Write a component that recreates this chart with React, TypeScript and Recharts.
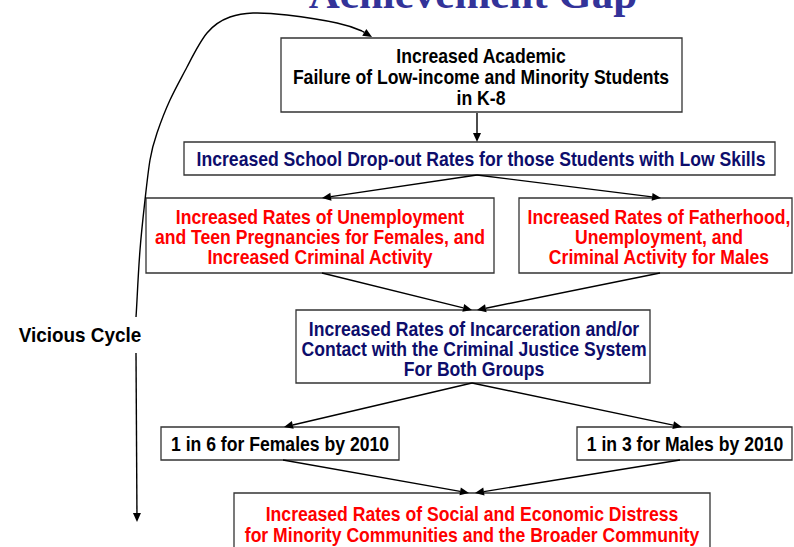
import {
  ComposedChart,
  Line,
  ReferenceArea,
  ReferenceLine,
  Scatter,
  XAxis,
  YAxis,
} from "recharts";

// diagram space: 0..794 across, 0..547 down (same units as the slide)
const boxes = [
  { id: "academic", x1: 281, x2: 682, y1: 38, y2: 112 },
  { id: "dropout", x1: 184, x2: 775, y1: 142, y2: 175 },
  { id: "females", x1: 146, x2: 494, y1: 198, y2: 273 },
  { id: "males", x1: 519, x2: 792, y1: 198, y2: 273 },
  { id: "incarceration", x1: 296, x2: 650, y1: 310, y2: 383 },
  { id: "oneInSix", x1: 161, x2: 399, y1: 427, y2: 460 },
  { id: "oneInThree", x1: 577, x2: 792, y1: 427, y2: 460 },
  { id: "distress", x1: 234, x2: 710, y1: 493, y2: 556 },
];

const labelLines = [
  { x: 481, y: 56, text: "Increased Academic", tone: "ink" },
  { x: 481, y: 77, text: "Failure of Low-income and Minority Students", tone: "ink" },
  { x: 481, y: 98, text: "in K-8", tone: "ink" },
  { x: 481, y: 159, text: "Increased School Drop-out Rates for those Students with Low Skills", tone: "navy" },
  { x: 320, y: 217, text: "Increased Rates of Unemployment", tone: "red" },
  { x: 320, y: 237, text: "and Teen Pregnancies for Females, and", tone: "red" },
  { x: 320, y: 257, text: "Increased Criminal Activity", tone: "red" },
  { x: 659, y: 217, text: "Increased Rates of Fatherhood,", tone: "red" },
  { x: 659, y: 237, text: "Unemployment, and", tone: "red" },
  { x: 659, y: 257, text: "Criminal Activity for Males", tone: "red" },
  { x: 474, y: 329, text: "Increased Rates of Incarceration and/or", tone: "navy" },
  { x: 474, y: 349, text: "Contact with the Criminal Justice System", tone: "navy" },
  { x: 474, y: 369, text: "For Both Groups", tone: "navy" },
  { x: 280, y: 444, text: "1 in 6 for Females by 2010", tone: "ink" },
  { x: 685, y: 444, text: "1 in 3 for Males by 2010", tone: "ink" },
  { x: 472, y: 514, text: "Increased Rates of Social and Economic Distress", tone: "red" },
  { x: 472, y: 535, text: "for Minority Communities and the Broader Community", tone: "red" },
];

const titleText = [{ x: 473, y: 8, text: "Achievement Gap" }];
const sideLabel = [{ x: 80, y: 335, text: "Vicious Cycle" }];

const links = [
  { from: [477, 113], to: [477, 142] },
  { from: [477, 175], to: [322, 198] },
  { from: [477, 175], to: [661, 198] },
  { from: [322, 273], to: [472, 310] },
  { from: [660, 273], to: [477, 310] },
  { from: [472, 383], to: [284, 427] },
  { from: [472, 383], to: [682, 427] },
  { from: [283, 460], to: [469, 493] },
  { from: [680, 460], to: [475, 493] },
  { from: [136, 353], to: [137, 522] },
  { from: [362, 31], to: [372, 37] },
];

const cyclePath = [
  { x: 136, y: 317 },
  { x: 137, y: 300 },
  { x: 140, y: 250 },
  { x: 145, y: 200 },
  { x: 150, y: 160 },
  { x: 157, y: 133 },
  { x: 170, y: 100 },
  { x: 187, y: 67 },
  { x: 207, y: 33 },
  { x: 230, y: 17 },
  { x: 253, y: 13 },
  { x: 287, y: 15 },
  { x: 337, y: 23 },
  { x: 362, y: 31 },
];

const toneColor: Record<string, string> = {
  ink: "#000000",
  navy: "#0d0d6b",
  red: "#ff0000",
};

const sans = "'Liberation Sans', Arial, sans-serif";

function Arrow(props: any) {
  const { x1, y1, x2, y2 } = props;
  const dx = x2 - x1;
  const dy = y2 - y1;
  const len = Math.hypot(dx, dy) || 1;
  const ux = dx / len;
  const uy = dy / len;
  const head = 9;
  const half = 4;
  const bx = x2 - ux * head;
  const by = y2 - uy * head;
  return (
    <g>
      <line x1={x1} y1={y1} x2={bx} y2={by} stroke="#000" strokeWidth={1.4} />
      <polygon
        points={`${x2},${y2} ${bx - uy * half},${by + ux * half} ${bx + uy * half},${by - ux * half}`}
        fill="#000"
      />
    </g>
  );
}

// the slide font is a condensed bold sans, so squeeze the text horizontally
function LabelMark(props: any) {
  const { cx, cy, payload } = props;
  return (
    <text
      transform={`translate(${cx} ${cy}) scale(0.88 1)`}
      x={0}
      y={0}
      textAnchor="middle"
      dominantBaseline="central"
      fill={toneColor[payload.tone]}
      fontFamily={sans}
      fontWeight="bold"
      fontSize={20}
    >
      {payload.text}
    </text>
  );
}

function TitleMark(props: any) {
  const { cx, cy, payload } = props;
  return (
    <text
      x={cx}
      y={cy}
      textAnchor="middle"
      fill="#333399"
      fontFamily="'Liberation Serif', 'Times New Roman', serif"
      fontWeight="bold"
      fontSize={43}
    >
      {payload.text}
    </text>
  );
}

function SideMark(props: any) {
  const { cx, cy, payload } = props;
  return (
    <text
      transform={`translate(${cx} ${cy}) scale(0.9 1)`}
      x={0}
      y={0}
      textAnchor="middle"
      dominantBaseline="central"
      fill="#000"
      fontFamily={sans}
      fontWeight="bold"
      fontSize={21}
    >
      {payload.text}
    </text>
  );
}

export default function App() {
  return (
    <div style={{ position: "absolute", left: 0, top: 0, background: "#fff" }}>
      <ComposedChart
        width={794}
        height={547}
        margin={{ top: 0, right: 0, bottom: 0, left: 0 }}
      >
        <XAxis type="number" dataKey="x" domain={[0, 794]} hide allowDataOverflow />
        <YAxis type="number" dataKey="y" domain={[0, 547]} reversed hide allowDataOverflow />
        {boxes.map((b) => (
          <ReferenceArea
            key={b.id}
            x1={b.x1}
            x2={b.x2}
            y1={b.y1}
            y2={b.y2}
            ifOverflow="visible"
            fill="#ffffff"
            fillOpacity={1}
            stroke="#333333"
            strokeWidth={1.3}
          />
        ))}
        {links.map((l, i) => (
          <ReferenceLine
            key={i}
            segment={[
              { x: l.from[0], y: l.from[1] },
              { x: l.to[0], y: l.to[1] },
            ]}
            ifOverflow="visible"
            shape={(p: any) => <Arrow {...p} />}
          />
        ))}
        <Line
          data={cyclePath}
          dataKey="y"
          type="natural"
          stroke="#000"
          strokeWidth={1.4}
          dot={false}
          isAnimationActive={false}
        />
        <Scatter data={labelLines} dataKey="y" shape={LabelMark} isAnimationActive={false} />
        <Scatter data={titleText} dataKey="y" shape={TitleMark} isAnimationActive={false} />
        <Scatter data={sideLabel} dataKey="y" shape={SideMark} isAnimationActive={false} />
      </ComposedChart>
    </div>
  );
}
